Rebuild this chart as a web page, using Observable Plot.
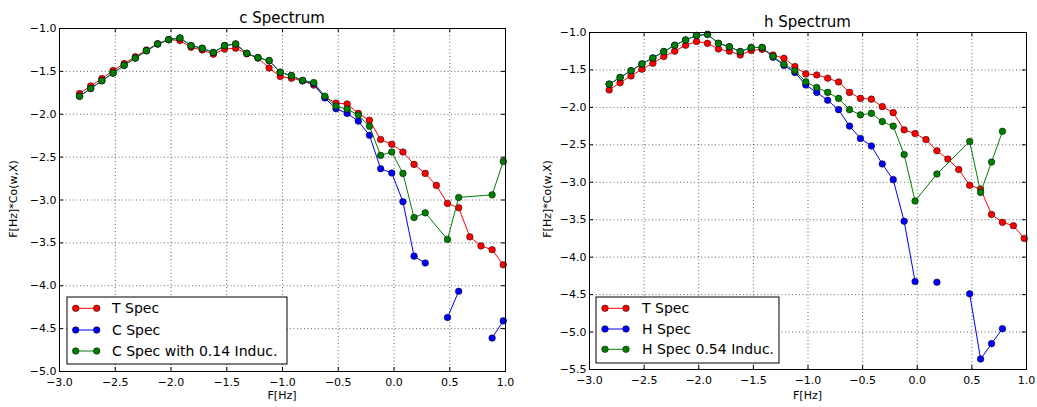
<!DOCTYPE html>
<html><head><meta charset="utf-8">
<script src="https://cdn.jsdelivr.net/npm/d3@7"></script>
<script src="https://cdn.jsdelivr.net/npm/@observablehq/plot@0.6"></script>
<style>
body{margin:0;background:#fff;}
#wrap{position:relative;width:1037px;height:407px;font-family:"DejaVu Sans",sans-serif;overflow:hidden;background:#fff}
.panel{position:absolute;top:0}
#overlay{position:absolute;left:0;top:0}
</style></head><body><div id="wrap"></div>
<script>
// frequency axis (log10 F) sample positions
const F = [-2.82,-2.72,-2.62,-2.52,-2.42,-2.32,-2.22,-2.12,-2.02,-1.92,-1.82,-1.72,-1.62,-1.52,-1.42,-1.32,-1.22,-1.12,-1.02,-0.92,-0.82,-0.72,-0.62,-0.52,-0.42,-0.32,-0.22,-0.12,-0.02,0.08,0.18,0.28,0.38,0.48,0.58,0.68,0.78,0.88,0.98];

// c Spectrum
const cT = [-1.76,-1.67,-1.585,-1.49,-1.41,-1.33,-1.25,-1.18,-1.13,-1.14,-1.22,-1.25,-1.30,-1.24,-1.23,-1.295,-1.345,-1.46,-1.56,-1.58,-1.61,-1.66,-1.80,-1.87,-1.88,-1.99,-2.07,-2.295,-2.35,-2.44,-2.585,-2.69,-2.83,-3.04,-3.09,-3.43,-3.535,-3.58,-3.755];
const cC = [-1.79,-1.70,-1.61,-1.52,-1.43,-1.345,-1.26,-1.18,-1.13,-1.11,-1.20,-1.23,-1.28,-1.20,-1.18,-1.29,-1.34,-1.375,-1.51,-1.55,-1.61,-1.645,-1.81,-1.935,-1.99,-2.08,-2.245,-2.635,-2.685,-3.02,-3.655,-3.735,null,-4.37,-4.065,null,null,-4.61,-4.41];
const cInd = [-1.79,-1.70,-1.61,-1.52,-1.43,-1.345,-1.26,-1.18,-1.13,-1.11,-1.20,-1.23,-1.28,-1.20,-1.18,-1.29,-1.34,-1.375,-1.51,-1.55,-1.605,-1.63,-1.79,-1.905,-1.94,-2.01,-2.14,-2.48,-2.44,-2.69,-3.205,-3.15,null,-3.46,-2.97,null,null,-2.94,-2.55];

// h Spectrum
const hT = [-1.767,-1.67,-1.58,-1.49,-1.41,-1.32,-1.25,-1.17,-1.12,-1.145,-1.22,-1.25,-1.30,-1.24,-1.225,-1.30,-1.345,-1.455,-1.553,-1.567,-1.61,-1.66,-1.80,-1.88,-1.89,-1.99,-2.07,-2.30,-2.35,-2.43,-2.58,-2.69,-2.83,-3.04,-3.09,-3.43,-3.535,-3.58,-3.75];
const hH = [-1.69,-1.60,-1.51,-1.42,-1.34,-1.255,-1.17,-1.10,-1.04,-1.025,-1.145,-1.19,-1.255,-1.20,-1.20,-1.33,-1.44,-1.535,-1.70,-1.80,-1.905,-2.03,-2.25,-2.415,-2.515,-2.755,-2.965,-3.52,-4.325,null,-4.335,null,null,-4.49,-5.36,-5.155,-4.955,null,null];
const hInd = [-1.69,-1.60,-1.51,-1.42,-1.34,-1.255,-1.17,-1.10,-1.04,-1.025,-1.145,-1.19,-1.255,-1.20,-1.20,-1.32,-1.425,-1.51,-1.658,-1.735,-1.80,-1.88,-2.03,-2.10,-2.08,-2.19,-2.25,-2.63,-3.25,null,-2.89,null,null,-2.455,-3.135,-2.73,-2.32,null,null];

const xTicks = [-3.0,-2.5,-2.0,-1.5,-1.0,-0.5,0.0,0.5,1.0];
const yTicksC = [-5.0,-4.5,-4.0,-3.5,-3.0,-2.5,-2.0,-1.5,-1.0];
const yTicksH = [-5.5,-5.0,-4.5,-4.0,-3.5,-3.0,-2.5,-2.0,-1.5,-1.0];

const titles = ["c Spectrum", "h Spectrum"];
const legendC = ["T Spec", "C Spec", "C Spec with 0.14 Induc."];
const legendH = ["T Spec", "H Spec", "H Spec 0.54 Induc."];
const xLabel = "F[Hz]";
const yLabel = "F[Hz]*Co(w,X)";
const colors = ["#ff0000", "#0000ff", "#008000"];

const fmt = d3.format(".1f");
const wrap = document.getElementById("wrap");

function table(ys) { return F.map((x, i) => ({x, y: ys[i]})); }

function panel({left, width, height, mL, mR, mT, mB, yDomain, yTicks, series}) {
  const pw = width - mL - mR, ph = height - mT - mB;
  const marks = [
    Plot.ruleX(xTicks, {x: d => d, stroke: "#000", strokeOpacity: 1, strokeWidth: 0.6, strokeDasharray: "1,2.5"}),
    Plot.ruleY(yTicks, {y: d => d, stroke: "#000", strokeOpacity: 1, strokeWidth: 0.6, strokeDasharray: "1,2.5"}),
    Plot.tickX(xTicks, {x: d => d, insetTop: ph - 4, stroke: "#000"}),
    Plot.tickX(xTicks, {x: d => d, insetBottom: ph - 4, stroke: "#000"}),
    Plot.tickY(yTicks, {y: d => d, insetRight: pw - 4, stroke: "#000"}),
    Plot.tickY(yTicks, {y: d => d, insetLeft: pw - 4, stroke: "#000"}),
    Plot.axisX(xTicks, {tickSize: 0, tickPadding: 6.5, tickFormat: fmt, label: null}),
    Plot.axisY(yTicks, {tickSize: 0, tickPadding: 3, tickFormat: fmt, label: null})
  ];
  series.forEach((s, i) => {
    const data = table(s);
    const lineData = i === 2 ? data.filter(d => d.y != null) : data;
    marks.push(Plot.line(lineData, {x: "x", y: "y", stroke: colors[i], strokeWidth: 1}));
    marks.push(Plot.dot(data.filter(d => d.y != null), {x: "x", y: "y", r: 3.3, fill: colors[i], stroke: "#000", strokeWidth: 0.5}));
  });
  marks.push(Plot.frame({stroke: "#000", strokeWidth: 1}));
  const svg = Plot.plot({
    width, height, marginLeft: mL, marginRight: mR, marginTop: mT, marginBottom: mB,
    x: {domain: [-3, 1]},
    y: {domain: yDomain},
    style: {fontFamily: "DejaVu Sans", fontSize: "11px", color: "#000", background: "transparent", overflow: "visible"},
    marks
  });
  svg.classList.add("panel");
  svg.style.left = left + "px";
  wrap.appendChild(svg);
}

panel({left: 0, width: 518, height: 407, mL: 59, mR: 13, mT: 28, mB: 36, yDomain: [-5, -1], yTicks: yTicksC, series: [cT, cC, cInd]});
panel({left: 518, width: 519, height: 407, mL: 71, mR: 11, mT: 32, mB: 38, yDomain: [-5.5, -1], yTicks: yTicksH, series: [hT, hH, hInd]});

// overlay: titles, axis labels, legends
const ov = d3.select(wrap).append("svg").attr("id", "overlay").attr("width", 1037).attr("height", 407)
  .style("font-family", "DejaVu Sans");
const panels = [
  {cx: 282, titleY: 23, ylx: 17, yly: 199, lg: {x: 67, y: 297, w: 220, h: 67, m1: 75.7, m2: 96.7, tx: 112, rows: [308.3, 330, 351]}, labels: legendC},
  {cx: 807.5, titleY: 27, ylx: 551, yly: 199, lg: {x: 596, y: 297, w: 183, h: 66, m1: 605, m2: 626, tx: 642, rows: [308.3, 329, 349.3]}, labels: legendH}
];
panels.forEach((p, pi) => {
  ov.append("text").attr("x", p.cx).attr("y", p.titleY).attr("text-anchor", "middle").attr("font-size", 15).text(titles[pi]);
  ov.append("text").attr("x", p.cx).attr("y", 399).attr("text-anchor", "middle").attr("font-size", 11).text(xLabel);
  ov.append("text").attr("transform", `translate(${p.ylx},${p.yly}) rotate(-90)`).attr("text-anchor", "middle").attr("font-size", 11).text(yLabel);
  const g = ov.append("g");
  g.append("rect").attr("x", p.lg.x).attr("y", p.lg.y).attr("width", p.lg.w).attr("height", p.lg.h).attr("fill", "#fff").attr("stroke", "#000").attr("stroke-width", 1);
  p.labels.forEach((lab, i) => {
    const ry = p.lg.rows[i];
    g.append("line").attr("x1", p.lg.m1).attr("x2", p.lg.m2).attr("y1", ry).attr("y2", ry).attr("stroke", colors[i]).attr("stroke-width", 1);
    [p.lg.m1, p.lg.m2].forEach(mx => g.append("circle").attr("cx", mx).attr("cy", ry).attr("r", 3.3).attr("fill", colors[i]).attr("stroke", "#000").attr("stroke-width", 0.5));
    g.append("text").attr("x", p.lg.tx).attr("y", ry + 5).attr("font-size", 14).text(lab);
  });
});
</script></body></html>
